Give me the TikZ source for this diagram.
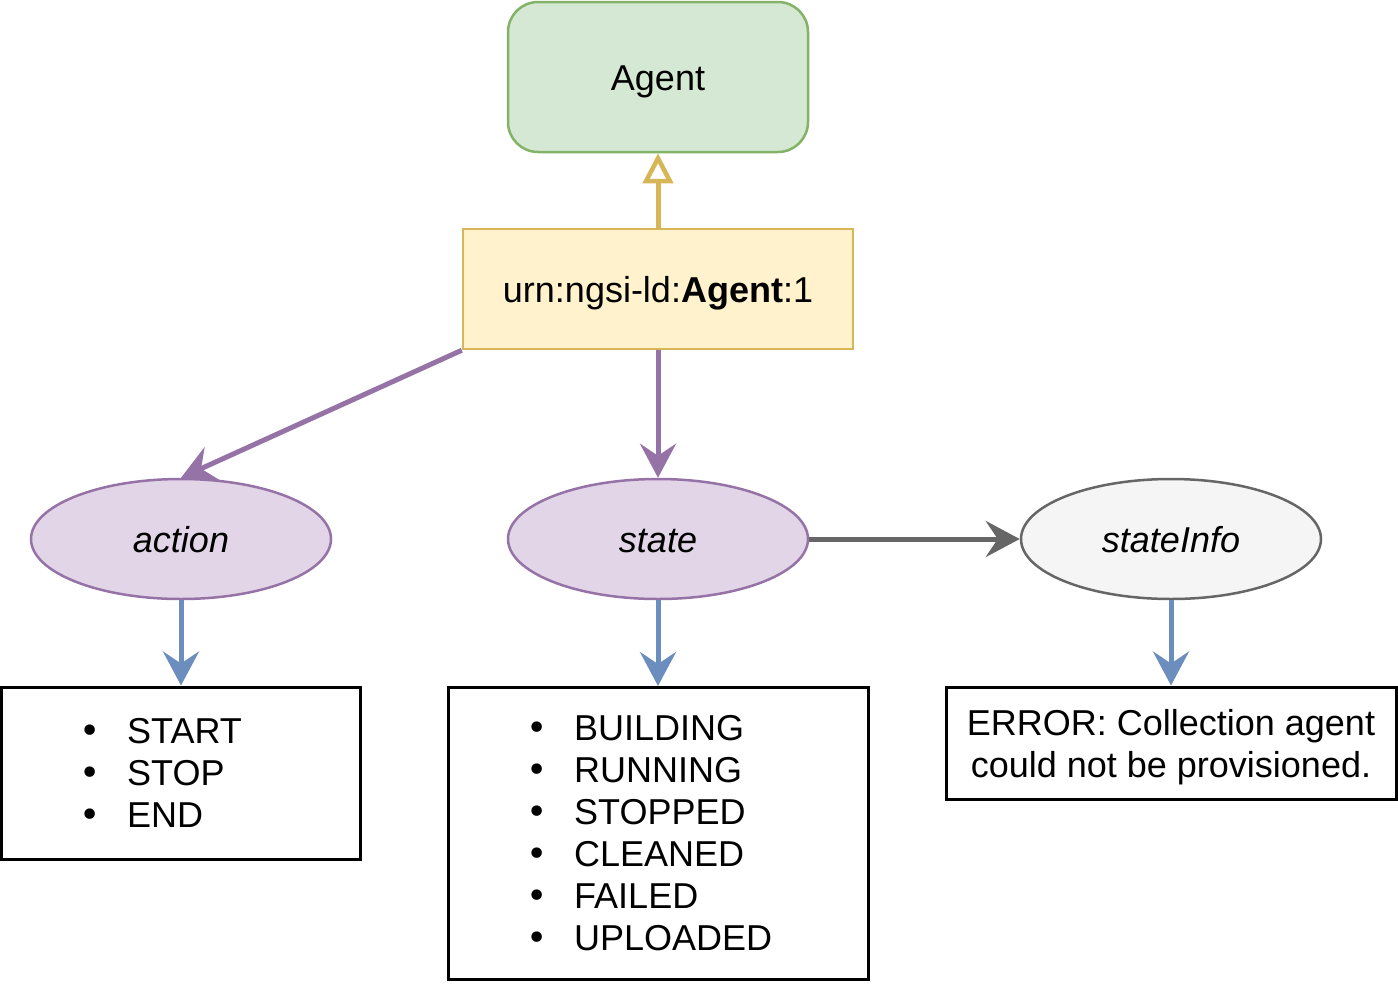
\documentclass[tikz,border=0pt]{standalone}
\usepackage{fontspec}
\setmainfont{Liberation Sans}
\newfontfamily\dvfont{DejaVu Sans}
\usetikzlibrary{arrows.meta,shapes.geometric}
\definecolor{gfill}{HTML}{D5E8D4}
\definecolor{gline}{HTML}{82B366}
\definecolor{yfill}{HTML}{FFF2CC}
\definecolor{yline}{HTML}{D6B656}
\definecolor{pfill}{HTML}{E1D5E7}
\definecolor{pline}{HTML}{9673A6}
\definecolor{sfill}{HTML}{F5F5F5}
\definecolor{sline}{HTML}{666666}
\definecolor{bline}{HTML}{6C8EBF}
\tikzset{
  txt/.style={font=\fontsize{36}{42}\selectfont, text height=26pt, text depth=0pt, inner sep=0pt},
  agentbox/.style={txt, draw=gline, fill=gfill, line width=2.5pt, rounded corners=30pt, minimum width=300pt, minimum height=150pt},
  urnbox/.style={txt, draw=yline, fill=yfill, line width=2.5pt, minimum width=390pt, minimum height=120pt},
  pell/.style={txt, ellipse, draw=pline, fill=pfill, line width=2.5pt, minimum width=300pt, minimum height=120pt},
  sell/.style={txt, ellipse, draw=sline, fill=sfill, line width=2.5pt, minimum width=300pt, minimum height=120pt},
  listbox/.style={draw=black, line width=3pt, inner sep=0pt},
  ltext/.style={font=\fontsize{36}{42}\selectfont, inner sep=0pt, anchor=base west},
  bul/.style={font=\fontsize{36}{42}\selectfont, inner sep=0pt, anchor=base},
  bdot/.style={font=\dvfont\fontsize{36}{42}\selectfont, inner sep=0pt, anchor=base},
  parrow/.style={draw=pline, line width=5pt, -{Stealth[length=34pt,width=36pt,inset=12pt]}},
  barrow/.style={draw=bline, line width=5pt, -{Stealth[length=34pt,width=36pt,inset=12pt]}},
  garrow/.style={draw=sline, line width=5pt, -{Stealth[length=34pt,width=36pt,inset=12pt]}},
  yarrow/.style={draw=yline, line width=5pt, -{Triangle[open,length=30pt,width=30pt,line width=4.5pt]}},
}
\begin{document}
\begin{tikzpicture}[x=1pt,y=-1pt]
\useasboundingbox (0,0) rectangle (1398,996);
\node[agentbox] (agent) at (658,77) {Agent};
\node[urnbox] (urn) at (658,289) {urn:ngsi-ld:\textbf{Agent}:1};
\node[pell] (action) at (181,539) {\itshape action};
\node[pell] (state) at (658,539) {\itshape state};
\node[sell] (info) at (1171,539) {\itshape stateInfo};
\node[listbox, minimum width=359pt, minimum height=172pt] (alist) at (181,773) {};
\node[listbox, minimum width=420pt, minimum height=292pt] (slist) at (658,833.5) {};
\node[listbox, minimum width=450pt, minimum height=112pt] (elist) at (1171,743) {};
% action list
\foreach \t [count=\i] in {START,STOP,END}{
  \node[bdot] (ab\i) at (90,{743+42*(\i-1)}) {•};
  \node[ltext] (at\i) at (127,{743+42*(\i-1)}) {\t};
}
% state list
\foreach \t [count=\i] in {BUILDING,RUNNING,STOPPED,CLEANED,FAILED,UPLOADED}{
  \node[bdot] (sb\i) at (537,{740+42*(\i-1)}) {•};
  \node[ltext] (st\i) at (574,{740+42*(\i-1)}) {\t};
}
% error text
\node[bul] (e1) at (1171,735) {ERROR: Collection agent};
\node[bul] (e2) at (1171,777) {could not be provisioned.};
% connectors
\draw[yarrow] (urn.north) -- (agent.south);
\draw[parrow] (urn.south west) -- (action.north);
\draw[parrow] (urn.south) -- (state.north);
\draw[garrow] (state.east) -- (info.west);
\draw[barrow] (action.south) -- (alist.north);
\draw[barrow] (state.south) -- (slist.north);
\draw[barrow] (info.south) -- (elist.north);
\end{tikzpicture}
\end{document}
